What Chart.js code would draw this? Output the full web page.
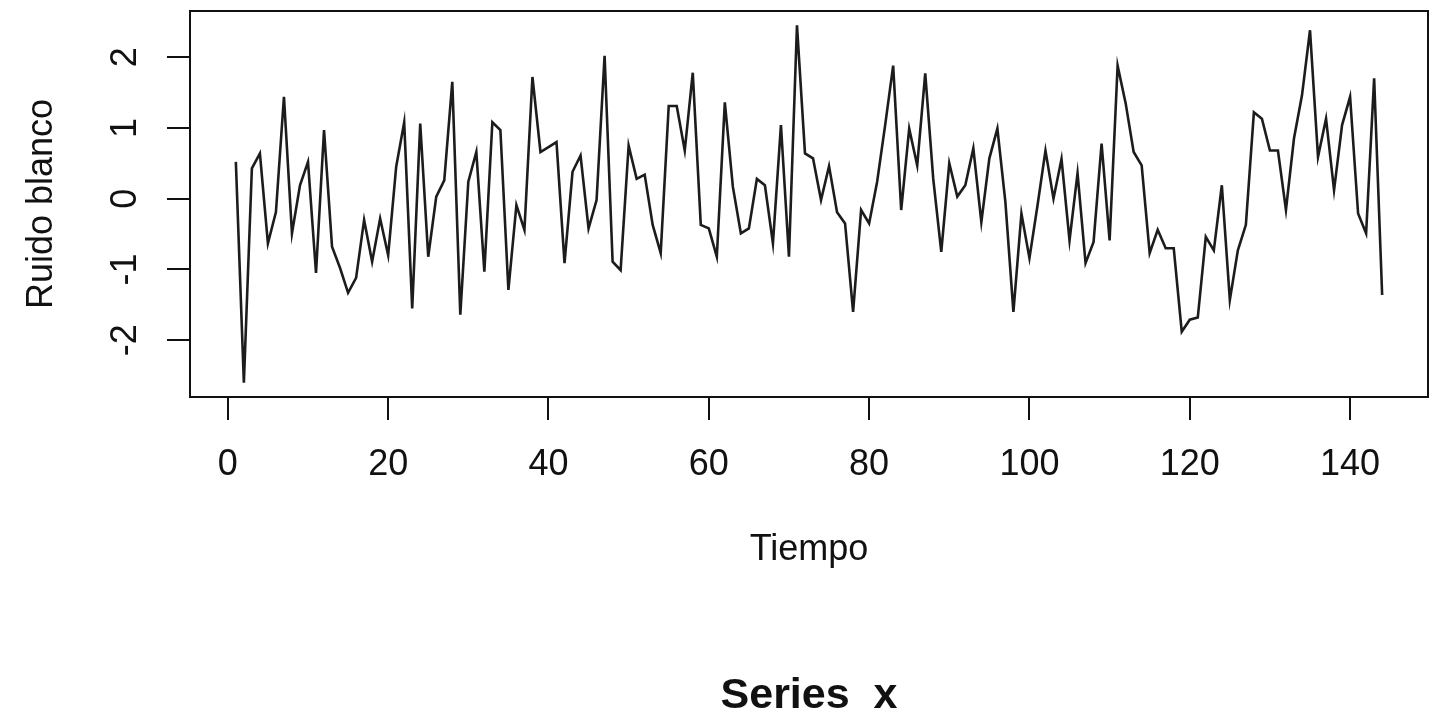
<!DOCTYPE html>
<html>
<head>
<meta charset="utf-8">
<script src="https://cdn.jsdelivr.net/npm/chart.js@4"></script>
<style>
  body { margin: 0; background: #fff; }
</style>
</head>
<body>
<canvas id="serie" width="1431" height="715"></canvas>
<script>
// valores (t = 1..144)
const ruido = [
  0.52, -2.60, 0.43, 0.64, -0.63, -0.19, 1.44, -0.49, 0.19, 0.52,
  -1.05, 0.97, -0.68, -0.98, -1.33, -1.12, -0.30, -0.89, -0.28, -0.80,
  0.45, 1.08, -1.55, 1.06, -0.82, 0.03, 0.26, 1.65, -1.64, 0.24,
  0.66, -1.03, 1.08, 0.97, -1.29, -0.09, -0.44, 1.72, 0.66, 0.73,
  0.80, -0.91, 0.38, 0.61, -0.42, -0.02, 2.02, -0.89, -1.01, 0.75,
  0.28, 0.34, -0.37, -0.77, 1.31, 1.31, 0.68, 1.78, -0.37, -0.42,
  -0.82, 1.36, 0.17, -0.49, -0.42, 0.28, 0.19, -0.63, 1.04, -0.82,
  2.45, 0.64, 0.57, -0.02, 0.46, -0.19, -0.35, -1.60, -0.16, -0.35,
  0.24, 1.04, 1.88, -0.16, 0.99, 0.47, 1.77, 0.28, -0.75, 0.50,
  0.03, 0.19, 0.71, -0.33, 0.57, 0.99, -0.05, -1.60, -0.21, -0.84,
  -0.10, 0.68, 0.00, 0.56, -0.59, 0.36, -0.91, -0.61, 0.78, -0.59,
  1.88, 1.35, 0.66, 0.47, -0.77, -0.44, -0.70, -0.70, -1.88, -1.71,
  -1.68, -0.54, -0.73, 0.19, -1.43, -0.73, -0.37, 1.22, 1.13, 0.68,
  0.68, -0.16, 0.85, 1.46, 2.38, 0.59, 1.13, 0.12, 1.04, 1.44,
  -0.21, -0.49, 1.70, -1.36
];
const tiempo = ruido.map((v, i) => i + 1);

const xTicks = [0, 20, 40, 60, 80, 100, 120, 140];
const yTicks = [-2, -1, 0, 1, 2];

const tinta = "#111";
const fuente = "'Liberation Sans', Arial, sans-serif";

// caja alrededor del area de dibujo (como box() en R)
const caja = {
  id: "caja",
  afterDraw(chart) {
    const a = chart.chartArea;
    const ctx = chart.ctx;
    ctx.save();
    ctx.strokeStyle = tinta;
    ctx.lineWidth = 2;
    ctx.strokeRect(a.left, a.top, a.right - a.left, a.bottom - a.top);
    ctx.restore();
  }
};

Chart.defaults.font.family = fuente;
Chart.defaults.color = tinta;

new Chart(document.getElementById("serie"), {
  type: "line",
  data: {
    datasets: [{
      data: tiempo.map((t, i) => ({ x: t, y: ruido[i] })),
      borderColor: "#1c1c1c",
      borderWidth: 2.6,
      pointRadius: 0,
      tension: 0,
      fill: false
    }]
  },
  options: {
    responsive: false,
    animation: false,
    layout: { padding: { top: 11, right: 3, left: 0, bottom: 0 } },
    plugins: {
      legend: { display: false },
      tooltip: { enabled: false },
      title: {
        display: true,
        text: "Series  x",
        position: "bottom",
        fullSize: false,
        color: tinta,
        font: { size: 43, weight: "bold", lineHeight: 0.8 },
        padding: { top: 0, bottom: 2 }
      }
    },
    scales: {
      x: {
        type: "linear",
        min: -4.72,
        max: 149.72,
        afterBuildTicks: (s) => { s.ticks = xTicks.map(v => ({ value: v })); },
        afterFit: (s) => { s.height = 281.6; s.paddingLeft = 0; s.paddingRight = 0; },
        grid: { drawOnChartArea: false, tickLength: 23, color: tinta, lineWidth: 2 },
        border: { display: false },
        ticks: { font: { size: 36 }, padding: 23, maxRotation: 0 },
        title: {
          display: true,
          text: "Tiempo",
          font: { size: 36 },
          padding: { top: 0, bottom: 107 }
        }
      },
      y: {
        min: -2.802,
        max: 2.652,
        afterBuildTicks: (s) => { s.ticks = yTicks.map(v => ({ value: v })); },
        afterFit: (s) => { s.width = 190; s.paddingTop = 0; s.paddingBottom = 0; },
        grid: { drawOnChartArea: false, tickLength: 23, color: tinta, lineWidth: 2 },
        border: { display: false },
        ticks: { font: { size: 36 }, padding: 25, minRotation: 90, maxRotation: 90, crossAlign: "center" },
        title: {
          display: true,
          text: "Ruido blanco",
          font: { size: 36 },
          padding: { top: 20, bottom: 0 }
        }
      }
    }
  },
  plugins: [caja]
});
</script>
</body>
</html>
